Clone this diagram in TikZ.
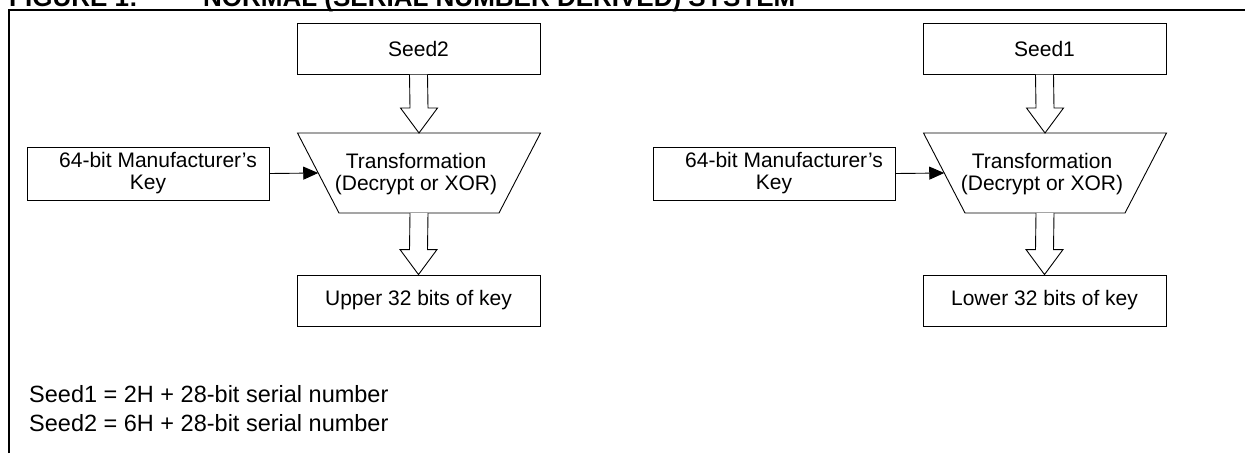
\documentclass[tikz,border=0pt]{standalone}
\usepackage{fontspec}
\setmainfont{Liberation Sans}
\usetikzlibrary{arrows.meta,calc}
\newcommand{\holarrow}[2]{%
  \draw[hollow] ($(#1)+(-9,0)$) -- ($(#2)+(-9,-25)$) -- ($(#2)+(-18.5,-25)$) -- (#2)
    -- ($(#2)+(18.5,-25)$) -- ($(#2)+(9,-25)$) -- ($(#1)+(9,0)$);}
\begin{document}
\begin{tikzpicture}[x=1pt,y=-1pt,
  box/.style={draw, line width=0.9pt, minimum width=243pt, minimum height=51pt,
    inner sep=0pt, font=\fontsize{21}{22}\selectfont, align=center},
  keybox/.style={box, minimum width=242pt, minimum height=53pt},
  trap/.style={draw, line width=0.9pt, line join=miter},
  txt/.style={inner sep=0pt, font=\fontsize{21}{22}\selectfont, align=center},
  hollow/.style={draw, line width=0.9pt, fill=white, line join=miter},
  feed/.style={line width=0.9pt, -{Triangle[length=15pt,width=13pt]}},
  note/.style={inner sep=0pt, anchor=base west, font=\fontsize{23.5}{28}\selectfont},
  title/.style={inner sep=0pt, anchor=base west, font=\fontsize{26}{30}\bfseries\selectfont},
  frame/.style={line width=2pt}]
\useasboundingbox (0,0) rectangle (1245,453);
% title (cut off at top) and frame
\node[title] (t1) at (9,6.5) {FIGURE 1:};
\node[title] (t2) at (203,6.5) {NORMAL (SERIAL NUMBER DERIVED) SYSTEM};
\draw[frame] (9,453) -- (9,10) -- (1250,10);

% left column
\node[box] (s2) at (418.5,48.75) {Seed2};
\node[box] (up) at (418.5,300.5) {Upper 32 bits of key};
\node[keybox] (k1) at (148,173.5) {\hspace*{20pt}64-bit Manufacturer’s\\Key};
\draw[trap] (297.5,133) coordinate (t1tl) -- (540.5,133) -- (499,213) -- (339,213) coordinate (t1bl) -- cycle;
\node[txt] (tr1) at (416,174) {Transformation\\(Decrypt or XOR)};
\coordinate (tr1top) at (419,133);
\coordinate (tr1bot) at (419,213);
\coordinate (tr1in) at ($(t1tl)!0.5!(t1bl)$);
\holarrow{s2.south}{tr1top}
\holarrow{tr1bot}{up.north}
\draw[feed] (k1.east) -- (tr1in);

% right column
\node[box] (s1) at (1044.5,48.75) {Seed1};
\node[box] (lo) at (1044.5,300.5) {Lower 32 bits of key};
\node[keybox] (k2) at (774,173.5) {\hspace*{20pt}64-bit Manufacturer’s\\Key};
\draw[trap] (923.5,133) coordinate (t2tl) -- (1166.5,133) -- (1125,213) -- (965,213) coordinate (t2bl) -- cycle;
\node[txt] (tr2) at (1042,174) {Transformation\\(Decrypt or XOR)};
\coordinate (tr2top) at (1045,133);
\coordinate (tr2bot) at (1045,213);
\coordinate (tr2in) at ($(t2tl)!0.5!(t2bl)$);
\holarrow{s1.south}{tr2top}
\holarrow{tr2bot}{lo.north}
\draw[feed] (k2.east) -- (tr2in);

% notes
\node[note] (n1) at (29,402) {Seed1 = 2H + 28-bit serial number};
\node[note] (n2) at (29,431) {Seed2 = 6H + 28-bit serial number};
\end{tikzpicture}
\end{document}
